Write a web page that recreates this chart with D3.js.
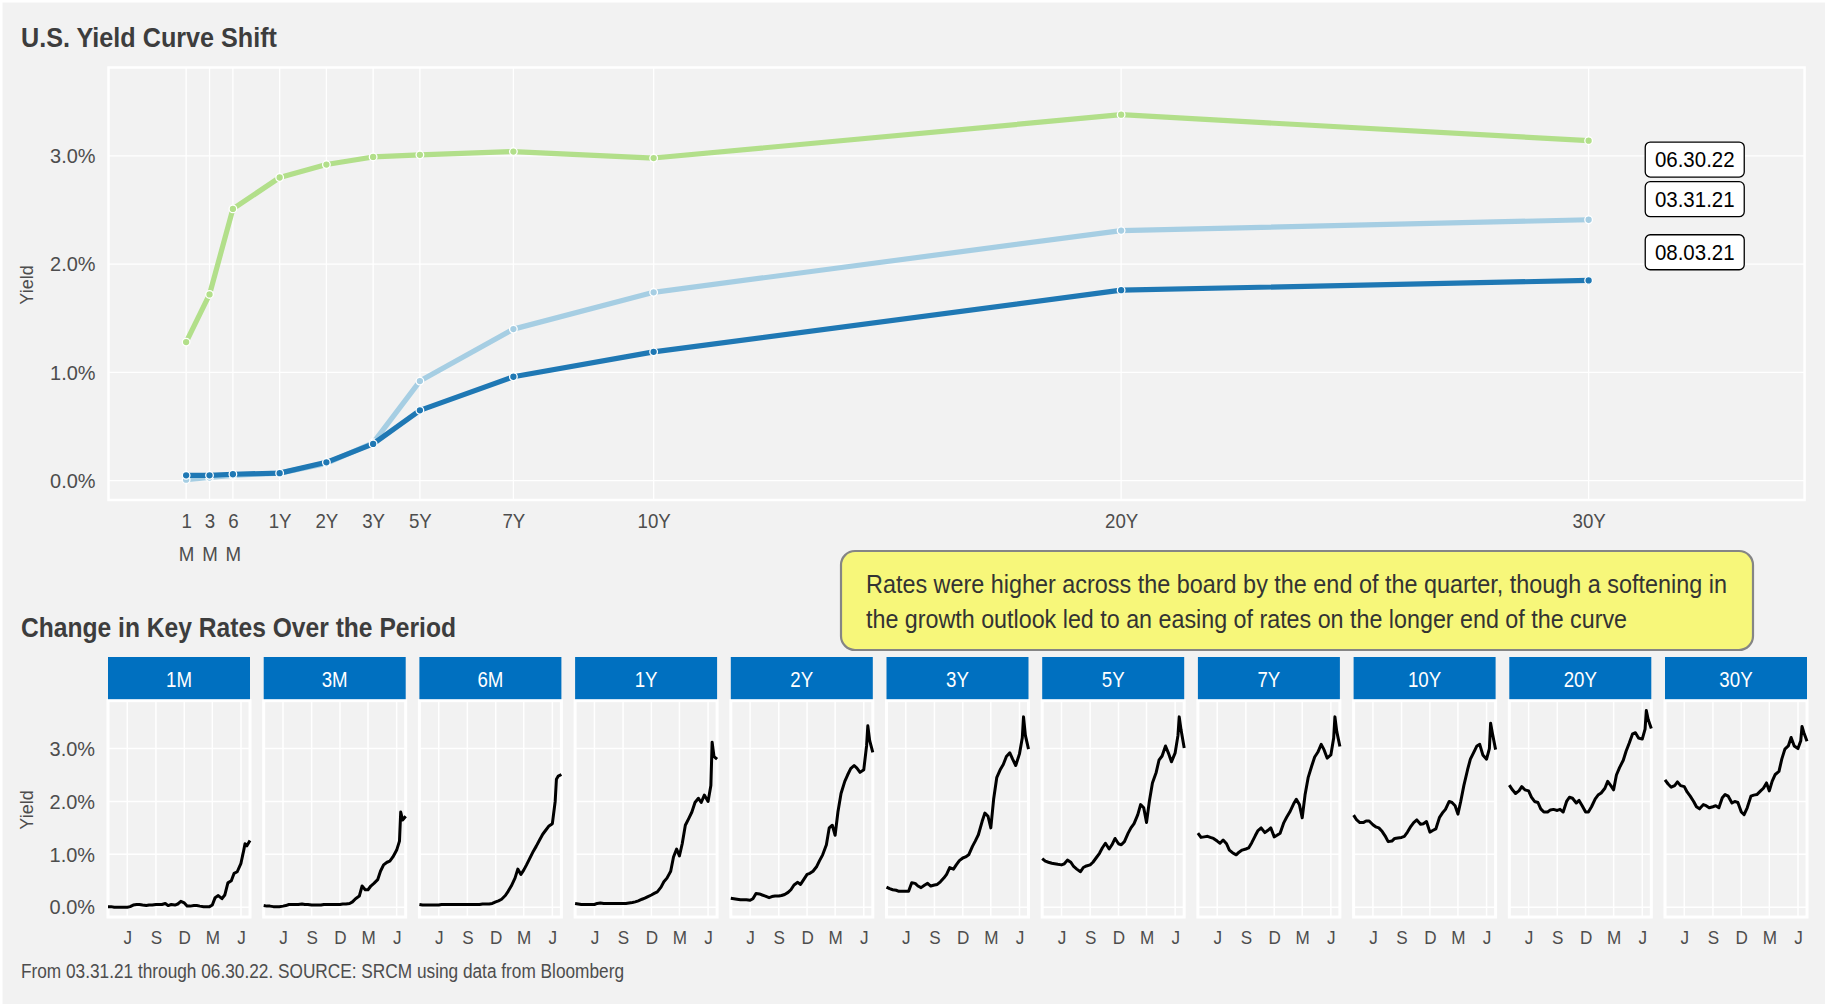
<!DOCTYPE html>
<html>
<head>
<meta charset="utf-8">
<script src="https://cdn.jsdelivr.net/npm/d3@7"></script>
<style>
  html, body { margin: 0; padding: 0; background: #f2f2f2; }
  svg text { font-family: "Liberation Sans", Arial, Helvetica, sans-serif; }
</style>
</head>
<body>
<svg id="chart" width="1825" height="1004"></svg>
<script>
// ---------- yield curve snapshots ----------
const tenors = ["1M", "3M", "6M", "1Y", "2Y", "3Y", "5Y", "7Y", "10Y", "20Y", "30Y"];
// position of each tenor along the curve axis
const tenorAxis = [0, 0.5, 1, 2, 3, 4, 5, 7, 10, 20, 30];
const tenorTickText = [["1", "M"], ["3", "M"], ["6", "M"], ["1Y"], ["2Y"], ["3Y"], ["5Y"], ["7Y"], ["10Y"], ["20Y"], ["30Y"]];

const curveNames = ["03.31.21", "06.30.22", "08.03.21"];
const curve033121 = [0.01, 0.03, 0.05, 0.07, 0.16, 0.35, 0.92, 1.40, 1.74, 2.31, 2.41];
const curve063022 = [1.28, 1.72, 2.51, 2.80, 2.92, 2.99, 3.01, 3.04, 2.98, 3.38, 3.14];
const curve080321 = [0.05, 0.05, 0.06, 0.07, 0.17, 0.34, 0.65, 0.96, 1.19, 1.76, 1.85];
const curveColors = ["#a6cee3", "#b2df8a", "#1f78b4"];
// where the curve name tags sit (curve-axis units, yield units)
const tagX = 32.27;
const tagY = [2.60, 2.966, 2.11];

const yTicks = [0, 1, 2, 3];

// ---------- history of each key rate ----------
const seriesDates = ["2021-03-31","2021-04-10","2021-04-20","2021-05-01","2021-05-10","2021-05-20","2021-06-01","2021-06-10","2021-06-20",
  "2021-07-01","2021-07-10","2021-07-20","2021-08-01","2021-08-10","2021-08-20","2021-09-01","2021-09-10","2021-09-20",
  "2021-10-01","2021-10-10","2021-10-20","2021-11-01","2021-11-10","2021-11-20","2021-12-01","2021-12-10","2021-12-20",
  "2022-01-01","2022-01-10","2022-01-20","2022-02-01","2022-02-10","2022-02-20","2022-03-01","2022-03-10","2022-03-20",
  "2022-04-01","2022-04-10","2022-04-20","2022-05-01","2022-05-10","2022-05-20","2022-06-01","2022-06-10","2022-06-14",
  "2022-06-20","2022-06-30"];

const rate1M = [0.01,0.01,0.00,0.00,0.00,0.00,0.00,0.01,0.04, 0.05,0.05,0.04,0.03,0.04,0.04,0.05,0.05,0.05,
  0.07,0.03,0.05,0.04,0.06,0.11,0.08,0.02,0.02, 0.03,0.03,0.02,0.01,0.01,0.01,0.04,0.18,0.22,
  0.16,0.23,0.46,0.50,0.64,0.67,0.83,1.08,1.20, 1.16,1.26];
const rate3M = [0.03,0.02,0.02,0.01,0.01,0.01,0.02,0.03,0.05, 0.05,0.05,0.05,0.06,0.05,0.05,0.04,0.04,0.04,
  0.04,0.05,0.05,0.05,0.05,0.05,0.05,0.06,0.06, 0.07,0.10,0.16,0.21,0.40,0.33,0.33,0.40,0.45,
  0.52,0.68,0.80,0.85,0.87,0.95,1.08,1.25,1.80, 1.65,1.72];
const rate6M = [0.05,0.04,0.04,0.04,0.04,0.04,0.04,0.05,0.05, 0.05,0.05,0.05,0.05,0.05,0.05,0.05,0.05,0.05,
  0.05,0.05,0.06,0.06,0.06,0.07,0.10,0.12,0.15, 0.22,0.30,0.40,0.55,0.72,0.62,0.70,0.80,0.92,
  1.06,1.15,1.26,1.38,1.45,1.53,1.58,2.00,2.42, 2.48,2.51];
const rate1Y = [0.07,0.06,0.05,0.05,0.05,0.05,0.05,0.07,0.08, 0.07,0.07,0.07,0.07,0.07,0.07,0.07,0.07,0.08,
  0.09,0.10,0.12,0.15,0.17,0.20,0.23,0.26,0.29, 0.38,0.48,0.55,0.68,0.95,1.10,0.97,1.20,1.55,
  1.69,1.80,1.98,2.06,1.98,2.12,2.00,2.30,3.12, 2.85,2.80];
const rate2Y = [0.17,0.16,0.15,0.14,0.14,0.14,0.13,0.16,0.26, 0.25,0.23,0.21,0.18,0.20,0.21,0.21,0.22,0.24,
  0.28,0.33,0.42,0.47,0.43,0.52,0.62,0.64,0.68, 0.77,0.88,0.99,1.18,1.50,1.55,1.36,1.80,2.15,
  2.38,2.50,2.62,2.68,2.63,2.55,2.60,3.05,3.43, 3.15,2.93];
const rate3Y = [0.38,0.35,0.33,0.32,0.30,0.30,0.30,0.30,0.46, 0.45,0.40,0.37,0.42,0.45,0.40,0.42,0.43,0.48,
  0.55,0.62,0.75,0.72,0.80,0.88,0.93,0.95,0.99, 1.15,1.25,1.37,1.62,1.78,1.72,1.50,2.04,2.45,
  2.61,2.70,2.85,2.92,2.80,2.68,2.90,3.20,3.60, 3.25,2.99];
const rate5Y = [0.92,0.87,0.85,0.83,0.82,0.81,0.80,0.82,0.89, 0.85,0.77,0.72,0.67,0.75,0.78,0.80,0.85,0.93,
  1.02,1.12,1.21,1.10,1.18,1.30,1.20,1.18,1.24, 1.40,1.50,1.58,1.75,1.94,1.88,1.60,2.00,2.35,
  2.55,2.78,2.86,3.05,2.92,2.75,2.92,3.25,3.60, 3.35,3.01];
const rate7Y = [1.40,1.32,1.33,1.34,1.32,1.30,1.25,1.21,1.27, 1.20,1.08,1.03,0.99,1.04,1.08,1.10,1.12,1.22,
  1.35,1.45,1.50,1.41,1.45,1.50,1.33,1.36,1.40, 1.60,1.70,1.80,1.95,2.04,1.94,1.69,2.12,2.45,
  2.68,2.84,2.93,3.08,2.98,2.82,2.88,3.20,3.60, 3.32,3.04];
const rate10Y = [1.74,1.65,1.60,1.60,1.63,1.63,1.56,1.52,1.50, 1.43,1.35,1.24,1.25,1.30,1.31,1.32,1.34,1.42,
  1.53,1.60,1.65,1.57,1.58,1.62,1.42,1.45,1.48, 1.70,1.78,1.85,2.00,1.98,1.92,1.76,2.00,2.30,
  2.60,2.80,2.92,3.05,3.08,2.88,2.80,3.00,3.48, 3.28,2.98];
const rate20Y = [2.31,2.22,2.15,2.20,2.28,2.22,2.20,2.08,2.00, 1.98,1.86,1.80,1.80,1.84,1.85,1.83,1.85,1.80,
  2.00,2.08,2.06,1.97,2.02,1.92,1.80,1.80,1.90, 2.05,2.12,2.16,2.25,2.38,2.30,2.22,2.50,2.64,
  2.78,2.95,3.10,3.28,3.30,3.20,3.18,3.37,3.72, 3.55,3.38];
const rate30Y = [2.41,2.33,2.27,2.30,2.37,2.30,2.28,2.18,2.10, 2.00,1.90,1.86,1.94,1.92,1.88,1.90,1.92,1.88,
  2.07,2.13,2.10,1.97,2.00,1.98,1.80,1.75,1.88, 2.10,2.12,2.13,2.20,2.25,2.35,2.20,2.38,2.51,
  2.57,2.80,2.99,3.05,3.21,3.05,3.00,3.15,3.42, 3.30,3.14];

const monthTicks = ["2021-06-01", "2021-09-01", "2021-12-01", "2022-03-01", "2022-06-01"];
const periodStart = "2021-03-31", periodEnd = "2022-06-30";

const titleText = "U.S. Yield Curve Shift";
const subTitleText = "Change in Key Rates Over the Period";
const noteLines = ["Rates were higher across the board by the end of the quarter, though a softening in",
                   "the growth outlook led to an easing of rates on the longer end of the curve"];
const captionText = "From 03.31.21 through 06.30.22. SOURCE: SRCM using data from Bloomberg";

// ---------- helpers ----------
const W = 1825, H = 1004;
const parse = d3.timeParse("%Y-%m-%d");
const pct = d => d3.format(".1f")(d) + "%";
const svg = d3.select("#chart");
const TXT = "#4d4d4d";

// narrow the glyphs horizontally (condensed look)
function squeeze(sel, factor) {
  sel.each(function () {
    const len = this.getComputedTextLength();
    if (len > 0) d3.select(this).attr("textLength", len * factor).attr("lengthAdjust", "spacingAndGlyphs");
  });
  return sel;
}
function fit(sel, width) {
  return sel.attr("textLength", width).attr("lengthAdjust", "spacingAndGlyphs");
}

svg.append("rect").attr("width", W).attr("height", H).attr("fill", "#f2f2f2");
svg.append("path").attr("d", `M1,${H} V1 H${W}`).attr("fill", "none").attr("stroke", "#fff").attr("stroke-width", 3);

fit(svg.append("text").attr("x", 21).attr("y", 47).attr("font-size", 28).attr("font-weight", "bold")
  .attr("fill", "#3d3d3d").text(titleText), 256);

// ----- top panel: curve snapshots -----
const P = { l: 108.5, r: 1804.6, t: 67.5, b: 500 };
const xT = d3.scaleLinear().domain([-1.661, 34.62]).range([P.l, P.r]);
const yT = d3.scaleLinear().domain([-0.178, 3.816]).range([P.b, P.t]);

const gTop = svg.append("g");
gTop.selectAll("line.h").data(yTicks).join("line")
  .attr("x1", P.l).attr("x2", P.r).attr("y1", d => yT(d)).attr("y2", d => yT(d))
  .attr("stroke", "#fff").attr("stroke-width", 1.3);
gTop.selectAll("line.v").data(tenorAxis).join("line")
  .attr("x1", d => xT(d)).attr("x2", d => xT(d)).attr("y1", P.t).attr("y2", P.b)
  .attr("stroke", "#fff").attr("stroke-width", 1.3);
gTop.append("rect").attr("x", P.l).attr("y", P.t).attr("width", P.r - P.l).attr("height", P.b - P.t)
  .attr("fill", "none").attr("stroke", "#fff").attr("stroke-width", 2.5);

const yAxT = gTop.append("g").attr("transform", `translate(${P.l},0)`)
  .call(d3.axisLeft(yT).tickValues(yTicks).tickFormat(pct).tickSize(0).tickPadding(13));
yAxT.select(".domain").remove();
squeeze(yAxT.selectAll("text").attr("font-size", 21).attr("fill", TXT), 0.95);

const xAxT = gTop.append("g").attr("transform", `translate(0,${P.b})`)
  .call(d3.axisBottom(xT).tickValues(tenorAxis).tickFormat("").tickSize(0));
xAxT.select(".domain").remove();
xAxT.selectAll(".tick").each(function (d, i) {
  const tick = d3.select(this);
  tenorTickText[i].forEach((s, k) => {
    squeeze(tick.append("text").attr("fill", TXT).attr("font-size", 21).attr("text-anchor", "middle")
      .attr("y", 28 + k * 33).text(s), 0.89);
  });
});

svg.append("text").attr("transform", `translate(33,285) rotate(-90)`).attr("text-anchor", "middle")
  .attr("font-size", 18).attr("fill", TXT).text("Yield");

const curves = [curve033121, curve063022, curve080321];
const curveLine = d3.line().x((d, i) => xT(tenorAxis[i])).y(d => yT(d));
curves.forEach((c, k) => {
  gTop.append("path").datum(c).attr("d", curveLine).attr("fill", "none")
    .attr("stroke", curveColors[k]).attr("stroke-width", 5.2).attr("stroke-linejoin", "round");
  gTop.selectAll(null).data(c).join("circle")
    .attr("cx", (d, i) => xT(tenorAxis[i])).attr("cy", d => yT(d)).attr("r", 3.8)
    .attr("fill", curveColors[k]).attr("stroke", "#fff").attr("stroke-width", 1.3);
});

curveNames.forEach((name, k) => {
  const g = gTop.append("g").attr("transform", `translate(${xT(tagX)},${yT(tagY[k])})`);
  g.append("rect").attr("x", -49.5).attr("y", -17.5).attr("width", 99).attr("height", 35)
    .attr("rx", 5).attr("fill", "#fff").attr("stroke", "#000").attr("stroke-width", 1.3);
  squeeze(g.append("text").attr("text-anchor", "middle").attr("dy", "0.36em")
    .attr("font-size", 22).attr("fill", "#000").text(name), 0.93);
});

// ----- note box -----
const note = svg.append("g");
note.append("rect").attr("x", 841).attr("y", 551).attr("width", 912).attr("height", 99).attr("rx", 14)
  .attr("fill", "#f7f77a").attr("stroke", "#858585").attr("stroke-width", 2.2);
const noteWidths = [861, 761];
noteLines.forEach((s, k) => fit(note.append("text").attr("x", 866).attr("y", 593 + k * 34.7)
  .attr("font-size", 26).attr("fill", "#333").text(s), noteWidths[k]));

// ----- small multiples -----
fit(svg.append("text").attr("x", 21).attr("y", 637).attr("font-size", 28).attr("font-weight", "bold")
  .attr("fill", "#3d3d3d").text(subTitleText), 435);

const rates = [rate1M, rate3M, rate6M, rate1Y, rate2Y, rate3Y, rate5Y, rate7Y, rate10Y, rate20Y, rate30Y];
const dates = seriesDates.map(parse);
const F = { x0: 108, step: 155.7, w: 142, stripTop: 657, t: 700.7, b: 917 };
const yF = d3.scaleLinear().domain([-0.186, 3.906]).range([F.b, F.t]);

tenors.forEach((name, i) => {
  const L = F.x0 + i * F.step;
  const xF = d3.scaleTime().domain([parse(periodStart), parse(periodEnd)]).range([L, L + F.w]);
  const g = svg.append("g");
  g.append("rect").attr("x", L).attr("y", F.stripTop).attr("width", F.w).attr("height", F.t - F.stripTop)
    .attr("fill", "#0070c0");
  squeeze(g.append("text").attr("x", L + F.w / 2).attr("y", (F.stripTop + F.t) / 2).attr("dy", "0.36em")
    .attr("text-anchor", "middle").attr("font-size", 22).attr("fill", "#fff").text(name), 0.85);

  g.selectAll("line.h").data(yTicks).join("line")
    .attr("x1", L).attr("x2", L + F.w).attr("y1", d => yF(d)).attr("y2", d => yF(d))
    .attr("stroke", "#fff").attr("stroke-width", 1.5);
  g.selectAll("line.v").data(monthTicks.map(parse)).join("line")
    .attr("x1", d => xF(d)).attr("x2", d => xF(d)).attr("y1", F.t).attr("y2", F.b)
    .attr("stroke", "#fff").attr("stroke-width", 1.5);
  g.append("rect").attr("x", L).attr("y", F.t).attr("width", F.w).attr("height", F.b - F.t)
    .attr("fill", "none").attr("stroke", "#fff").attr("stroke-width", 3);

  const xa = g.append("g").attr("transform", `translate(0,${F.b})`)
    .call(d3.axisBottom(xF).tickValues(monthTicks.map(parse))
      .tickFormat(d => d3.timeFormat("%b")(d)[0]).tickSize(0).tickPadding(14));
  xa.select(".domain").remove();
  squeeze(xa.selectAll("text").attr("font-size", 19).attr("fill", TXT), 0.9);

  if (i === 0) {
    const ya = g.append("g").attr("transform", `translate(${L},0)`)
      .call(d3.axisLeft(yF).tickValues(yTicks).tickFormat(pct).tickSize(0).tickPadding(13));
    ya.select(".domain").remove();
    squeeze(ya.selectAll("text").attr("font-size", 21).attr("fill", TXT), 0.95);
  }

  const line = d3.line().x((d, k) => xF(dates[k])).y(d => yF(d));
  g.append("path").datum(rates[i]).attr("d", line).attr("fill", "none")
    .attr("stroke", "#000").attr("stroke-width", 3).attr("stroke-linejoin", "round");
});

svg.append("text").attr("transform", `translate(33,810) rotate(-90)`).attr("text-anchor", "middle")
  .attr("font-size", 18).attr("fill", TXT).text("Yield");

fit(svg.append("text").attr("x", 21).attr("y", 978).attr("font-size", 20).attr("fill", TXT).text(captionText), 603);
</script>
</body>
</html>
